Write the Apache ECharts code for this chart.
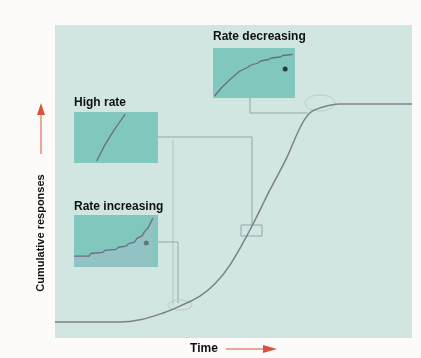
<!DOCTYPE html>
<html>
<head>
<meta charset="utf-8">
<style>
html,body{margin:0;padding:0;background:#fdfbf9;}
#c{width:421px;height:358px;}
</style>
<script src="https://cdn.jsdelivr.net/npm/echarts@6/dist/echarts.min.js"></script>
</head>
<body>
<div id="c"></div>
<script>
// Main cumulative record (x = time, y = cumulative responses, 0-100 scale)
var mainTime = [0, 18.2, 23.8, 30.3, 35.0, 40.6, 44.8, 49.0, 54.6, 60.2, 65.0, 68.6, 71.4, 75.1, 79.8, 100];
var mainResp = [5.1, 5.1, 5.8, 8.0, 10.2, 13.4, 17.3, 23.3, 34.5, 47.3, 57.8, 67.1, 71.9, 73.8, 74.8, 74.8];

// Inset: rate decreasing
var decTime = [2, 10, 12, 20, 22, 30, 33, 42, 45, 55, 58, 68, 71, 82, 85, 97];
var decResp = [4, 20, 23, 36, 40, 50, 54, 61, 65, 70, 74, 77, 80, 82, 85, 87];
var decPen = [[88, 58]];

// Inset: high rate
var highTime = [27, 36, 44, 52, 61];
var highResp = [4, 33, 55, 75, 96];

// Inset: rate increasing
var incTime = [0, 18, 20, 34, 37, 50, 53, 62, 65, 72, 75, 81, 84, 88, 94];
var incResp = [21, 21, 26, 28, 32, 34, 38, 40, 45, 48, 55, 60, 68, 75, 94];
var incPen = [[86, 46]];

var titles = ['Rate decreasing', 'High rate', 'Rate increasing'];
var axisTitleY = 'Cumulative responses';
var axisTitleX = 'Time';

var chart = echarts.init(document.getElementById('c'), null, {renderer: 'canvas'});
function zip(a, b) { return a.map(function (v, i) { return [v, b[i]]; }); }
function hiddenAxis(idx) {
  return {gridIndex: idx, type: 'value', min: 0, max: 100, show: false};
}
var curveCol = '#7f7f8e';
var connCol = '#93a8a8';
var red = '#d8533a';
var font = '"Liberation Sans", Arial, sans-serif';
var insetCol = '#80c7bd';

var option = {
  backgroundColor: '#fdfbf9',
  animation: false,
  grid: [
    {left: 55, top: 25, width: 357, height: 313, show: true, backgroundColor: '#d1e5e1', borderWidth: 0},
    {left: 213, top: 48, width: 82, height: 50, show: true, backgroundColor: insetCol, borderWidth: 0},
    {left: 74, top: 112, width: 84, height: 51, show: true, backgroundColor: insetCol, borderWidth: 0},
    {left: 74, top: 215, width: 84, height: 52, show: true, backgroundColor: insetCol, borderWidth: 0}
  ],
  xAxis: [hiddenAxis(0), hiddenAxis(1), hiddenAxis(2), hiddenAxis(3)],
  yAxis: [hiddenAxis(0), hiddenAxis(1), hiddenAxis(2), hiddenAxis(3)],
  series: [
    {type: 'line', xAxisIndex: 0, yAxisIndex: 0, data: zip(mainTime, mainResp), smooth: 0.4,
     symbol: 'none', lineStyle: {color: curveCol, width: 1.5}},
    {type: 'line', xAxisIndex: 1, yAxisIndex: 1, data: zip(decTime, decResp),
     symbol: 'none', lineStyle: {color: '#6c6c86', width: 1.3}},
    {type: 'scatter', xAxisIndex: 1, yAxisIndex: 1, data: decPen, symbolSize: 5, itemStyle: {color: '#0d1a1a'}},
    {type: 'line', xAxisIndex: 2, yAxisIndex: 2, data: zip(highTime, highResp),
     symbol: 'none', lineStyle: {color: '#6c6c86', width: 1.3}},
    {type: 'line', xAxisIndex: 3, yAxisIndex: 3, data: zip(incTime, incResp),
     symbol: 'none', lineStyle: {color: '#6c6c86', width: 1.3},
     areaStyle: {color: '#a7bccb', opacity: 0.45}},
    {type: 'scatter', xAxisIndex: 3, yAxisIndex: 3, data: incPen, symbolSize: 5, itemStyle: {color: '#0d1a1a'}}
  ],
  graphic: [
    // connectors
    {type: 'polyline', shape: {points: [[250, 98], [250, 113], [308, 113]]}, style: {stroke: connCol, fill: null, lineWidth: 1}},
    {type: 'ellipse', shape: {cx: 320, cy: 103, rx: 15, ry: 8}, style: {stroke: '#b9cccc', fill: null, lineWidth: 1}},
    {type: 'polyline', shape: {points: [[158, 137], [252, 137], [252, 225]]}, style: {stroke: connCol, fill: null, lineWidth: 1}},
    {type: 'polyline', shape: {points: [[173, 140], [173, 305]]}, style: {stroke: '#b0c4c4', fill: null, lineWidth: 1}},
    {type: 'rect', shape: {x: 241, y: 225, width: 21, height: 11}, style: {stroke: connCol, fill: null, lineWidth: 1}},
    {type: 'polyline', shape: {points: [[158, 242], [178, 242], [178, 303]]}, style: {stroke: connCol, fill: null, lineWidth: 1}},
    {type: 'ellipse', shape: {cx: 180, cy: 305, rx: 12, ry: 5}, style: {stroke: '#b9cccc', fill: null, lineWidth: 1}},
    // inset titles
    {type: 'text', x: 213, y: 37, style: {text: titles[0], font: 'bold 12px ' + font, fill: '#111', textVerticalAlign: 'middle'}},
    {type: 'text', x: 74, y: 103, style: {text: titles[1], font: 'bold 12px ' + font, fill: '#111', textVerticalAlign: 'middle'}},
    {type: 'text', x: 74, y: 207, style: {text: titles[2], font: 'bold 12px ' + font, fill: '#111', textVerticalAlign: 'middle'}},
    // axis titles
    {type: 'text', x: 41, y: 233, rotation: Math.PI / 2,
     style: {text: axisTitleY, font: 'bold 11px ' + font, fill: '#111', textAlign: 'center', textVerticalAlign: 'middle'}},
    {type: 'text', x: 204, y: 349,
     style: {text: axisTitleX, font: 'bold 12px ' + font, fill: '#111', textAlign: 'center', textVerticalAlign: 'middle'}},
    // arrows
    {type: 'line', shape: {x1: 41, y1: 114, x2: 41, y2: 154}, style: {stroke: red, lineWidth: 1}},
    {type: 'polygon', shape: {points: [[41, 103], [37, 115], [45, 115]]}, style: {fill: red}},
    {type: 'line', shape: {x1: 226, y1: 349, x2: 266, y2: 349}, style: {stroke: red, lineWidth: 1}},
    {type: 'polygon', shape: {points: [[277, 349], [263, 345], [263, 353]]}, style: {fill: red}}
  ]
};
chart.setOption(option);
</script>
</body>
</html>
